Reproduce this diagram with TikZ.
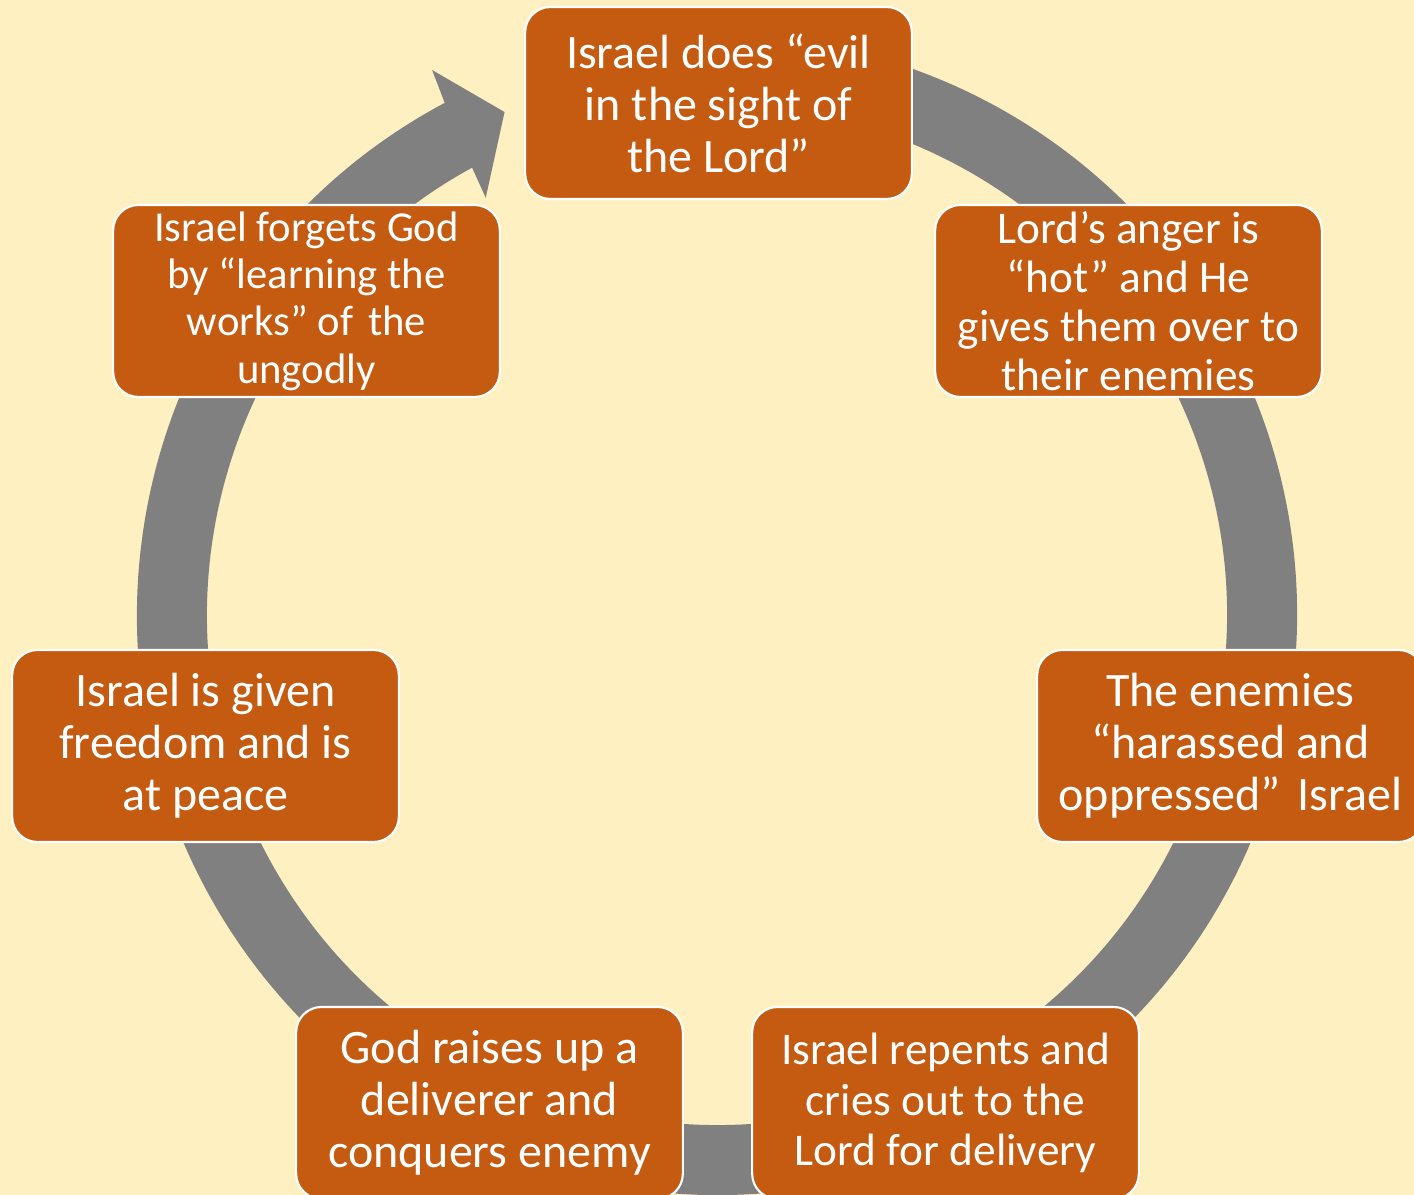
\documentclass[tikz,border=0pt]{standalone}
\usepackage{fontspec}
\setmainfont{Carlito}
\usetikzlibrary{calc}
\definecolor{bg}{HTML}{FFF0C2}
\definecolor{boxfill}{HTML}{C55A11}
\definecolor{ring}{HTML}{808080}
\begin{document}
\begin{tikzpicture}[x=0.75pt,y=0.75pt,
  stage/.style={draw=white,line width=1.6pt,fill=boxfill,rounded corners=19pt,
    minimum width=290pt,minimum height=144pt,text=white,align=center,inner sep=2pt},
  large/.style={font=\fontsize{36}{39}\selectfont},
  big/.style={font=\fontsize{34}{38}\selectfont},
  small/.style={font=\fontsize{34}{36.75}\selectfont},
  smaller/.style={font=\fontsize{32}{35.5}\selectfont}]
\fill[bg] (0,0) rectangle (1414,1195);
\useasboundingbox (0,0) rectangle (1414,1195);
% ring arrow
\coordinate (c) at (717,580);
\fill[ring] ($(c)+(80:580)$) arc[start angle=80,end angle=-242,radius=435pt]
  -- ($(c)+(-242.4:615)$) -- ($(c)+(-247.1:546)$) -- ($(c)+(-241:477)$)
  -- ($(c)+(-241.3:510)$) arc[start angle=-241.3,end angle=80,radius=382.5pt] -- cycle;
% stages
\node[stage,large] (s1) at (718.5,1092) {Israel does “evil\\in the sight of\\the Lord”};
\node[stage,small] (s2) at (1128.5,894) {Lord’s anger is\\“hot” and He\\gives them over to\\their enemies};
\node[stage,large] (s3) at (1230.5,449) {The enemies\\“harassed and\\oppressed”\hspace{4.5pt} Israel};
\node[stage,big] (s4) at (945.5,92) {Israel repents and\\cries out to the\\Lord for delivery};
\node[stage,large] (s5) at (489.5,92) {God raises up a\\deliverer and\\conquers enemy};
\node[stage,large] (s6) at (205.5,449) {Israel is given\\freedom and is\\at peace};
\node[stage,smaller] (s7) at (306.5,894) {Israel forgets God\\by “learning the\\works” of\hspace{4pt} the\\ungodly};
\end{tikzpicture}
\end{document}
